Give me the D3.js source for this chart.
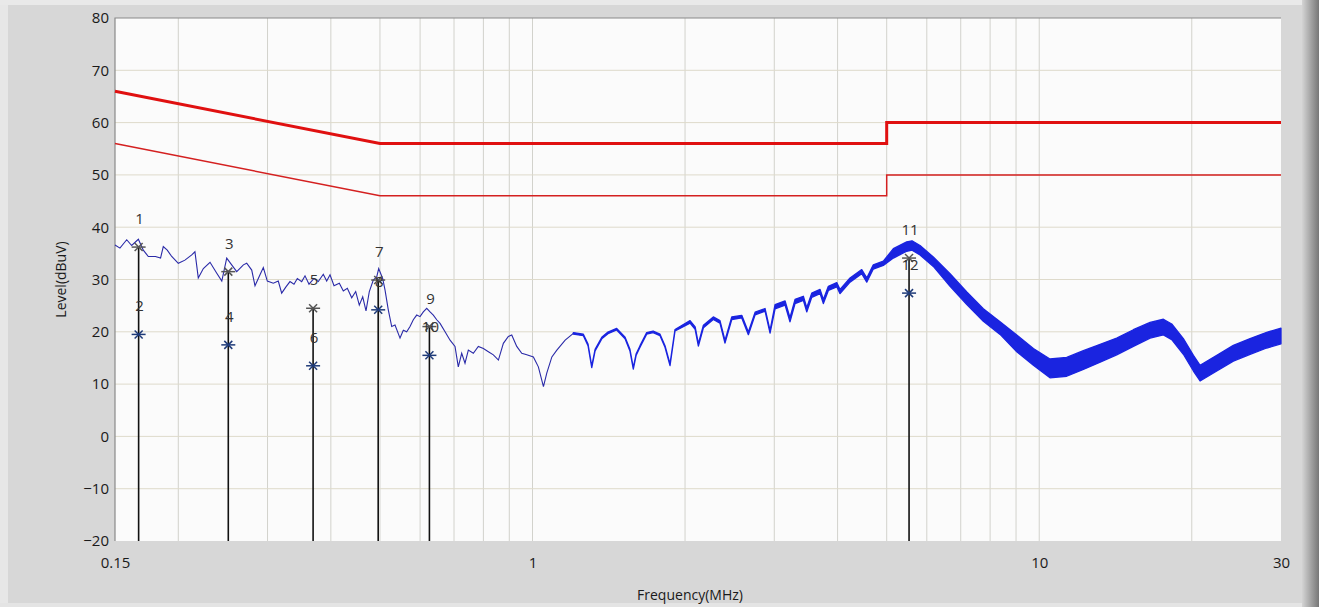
<!DOCTYPE html>
<html>
<head>
<meta charset="utf-8">
<script src="https://cdn.jsdelivr.net/npm/d3@7"></script>
<style>
  body { margin: 0; background: #d7d7d7; }
  svg { display: block; font-family: "Open Sans", "Noto Sans", sans-serif; }
</style>
</head>
<body>
<div id="chart"></div>
<script>
// tick labels
const yTicks = [-20, -10, 0, 10, 20, 30, 40, 50, 60, 70, 80]
const xTickLabels = [0.15, 1, 10, 30]
const xGrid = [0.2, 0.3, 0.4, 0.5, 0.6, 0.7, 0.8, 0.9, 1, 2, 3, 4, 5, 6, 7, 8, 9, 10, 20]

// limit lines [MHz, dBuV]
const limitQP = [[0.15, 66], [0.5, 56], [5, 56], [5, 60], [30, 60]]
const limitAV = [[0.15, 56], [0.5, 46], [5, 46], [5, 50], [30, 50]]

// measured trace below ~1.2 MHz [MHz, dBuV]
const traceThin = [
  [0.150, 36.6], [0.1534, 36.0], [0.1582, 37.6], [0.1618, 36.5], [0.1668, 37.7], [0.1706, 35.6],
  [0.1745, 34.4], [0.1803, 34.4], [0.1845, 34.1], [0.1868, 36.3], [0.1902, 35.6], [0.1941, 34.4],
  [0.200, 33.1], [0.2061, 33.7], [0.2126, 34.7], [0.2157, 35.3], [0.219, 30.3], [0.2241, 32.1],
  [0.231, 33.3], [0.2382, 31.2], [0.2437, 29.7], [0.2492, 34.1], [0.2549, 32.8], [0.2608, 31.5],
  [0.2688, 32.8], [0.2729, 33.1], [0.2792, 31.8], [0.2834, 28.8], [0.2899, 30.9], [0.2943, 32.3],
  [0.2997, 29.7], [0.308, 29.3], [0.315, 29.7], [0.3199, 27.4], [0.3262, 28.6], [0.3322, 29.6],
  [0.3383, 29.1], [0.3435, 30.2], [0.3504, 29.6], [0.3557, 30.7], [0.3622, 29.1], [0.3705, 30.2],
  [0.3778, 29.6], [0.3865, 31.0], [0.3925, 29.7], [0.3985, 30.9], [0.4058, 28.8], [0.4157, 29.3],
  [0.4233, 27.8], [0.4311, 28.3], [0.4398, 26.5], [0.4478, 27.7], [0.4552, 25.1], [0.4623, 26.7],
  [0.4693, 24.0], [0.4764, 27.7], [0.4851, 29.9], [0.4927, 30.5], [0.4971, 32.1], [0.5062, 30.2],
  [0.5116, 28.0], [0.5193, 24.2], [0.5274, 21.0], [0.5354, 21.3], [0.5477, 18.8], [0.556, 20.3],
  [0.5646, 20.0], [0.5732, 21.0], [0.5818, 22.3], [0.5909, 23.2], [0.5999, 22.9], [0.6089, 23.8],
  [0.6184, 24.5], [0.6278, 23.8], [0.6372, 23.2], [0.6471, 22.3], [0.657, 21.6], [0.6721, 20.0],
  [0.6876, 18.4], [0.7032, 17.2], [0.7138, 13.3], [0.7249, 15.9], [0.7359, 14.0], [0.7471, 16.5],
  [0.7643, 15.9], [0.7818, 17.2], [0.800, 16.8], [0.8183, 16.2], [0.8371, 15.6], [0.8565, 14.6],
  [0.876, 17.8], [0.8961, 19.1], [0.910, 19.4], [0.9309, 17.2], [0.9524, 15.9], [0.9743, 15.6],
  [1.004, 15.2], [1.027, 13.3], [1.051, 9.5], [1.067, 12.1], [1.092, 15.2], [1.117, 16.5],
  [1.160, 18.4], [1.204, 19.7]
]

// measured trace above ~1.2 MHz, noisy band [MHz, min dBuV, max dBuV]
const traceBand = [
  [1.204, 19.55, 19.85], [1.260, 19.25, 19.55], [1.287, 17.35, 17.65], [1.309, 13.15, 13.45], [1.329, 16.35, 16.65],
  [1.370, 18.65, 18.95], [1.409, 19.65, 19.95], [1.466, 20.35, 20.65], [1.523, 18.65, 18.95], [1.557, 16.35, 16.65],
  [1.581, 12.85, 13.15], [1.601, 15.45, 15.75], [1.630, 17.05, 17.35], [1.680, 19.55, 19.85], [1.730, 19.85, 20.15],
  [1.785, 19.25, 19.55], [1.826, 17.05, 17.35], [1.868, 13.55, 13.85], [1.911, 20.15, 20.45], [2.046, 21.65, 22.15],
  [2.094, 20.45, 20.95], [2.125, 17.25, 17.75], [2.174, 20.75, 21.25], [2.274, 22.35, 22.85], [2.344, 21.65, 22.15],
  [2.398, 17.85, 18.35], [2.473, 22.35, 22.85], [2.588, 22.65, 23.15], [2.667, 19.45, 19.95], [2.750, 23.25, 23.75],
  [2.877, 23.95, 24.45], [2.943, 19.75, 20.25], [3.011, 24.4, 25.2], [3.151, 25.1, 25.9], [3.222, 21.9, 22.7],
  [3.297, 25.4, 26.2], [3.424, 26.0, 26.8], [3.477, 23.8, 24.6], [3.557, 26.6, 27.4], [3.694, 27.3, 28.1],
  [3.750, 25.4, 26.2], [3.836, 27.9, 28.7], [3.985, 28.6, 29.4], [4.045, 27.3, 28.1], [4.233, 29.5, 30.3],
  [4.464, 31.1, 31.9], [4.567, 29.5, 30.3], [4.705, 32.0, 32.8], [4.924, 32.7, 33.5], [5.154, 34.1, 35.9],
  [5.477, 35.4, 37.2], [5.61, 35.6, 37.4], [5.818, 34.7, 36.5], [6.180, 32.5, 34.3], [6.669, 28.7, 31.1],
  [7.196, 25.2, 27.6], [7.757, 22.0, 24.4], [8.370, 19.5, 21.9], [9.030, 16.2, 19.4], [9.738, 13.6, 16.8],
  [10.50, 11.2, 14.8], [11.33, 11.5, 15.1], [12.22, 12.8, 16.4], [13.19, 14.2, 17.6], [14.22, 15.6, 18.8],
  [15.34, 17.2, 20.4], [16.55, 18.8, 21.8], [17.58, 19.4, 22.4], [18.26, 18.5, 21.5], [19.25, 15.7, 18.7],
  [20.15, 12.5, 15.5], [20.77, 10.6, 13.6], [22.41, 12.5, 15.5], [24.16, 14.4, 17.4], [26.07, 15.7, 18.7],
  [28.12, 16.9, 19.9], [30.0, 17.7, 20.7]
]

// final markers
const markerNo = [1, 2, 3, 4, 5, 6, 7, 8, 9, 10, 11, 12]
const markerFreq = [0.167, 0.167, 0.251, 0.251, 0.369, 0.369, 0.496, 0.496, 0.626, 0.626, 5.535, 5.535]
const markerLevel = [36.2, 19.5, 31.5, 17.5, 24.5, 13.5, 29.9, 24.2, 21.0, 15.5, 34.1, 27.4]

;(() => {
  let svg = null
  let xScale = null
  let yScale = null
  const width = 1319
  const height = 607
  const plot = { left: 115, right: 1281, top: 18, bottom: 541 }

  const init = () => {
    svg = d3.select('#chart')
      .append('svg')
      .attr('width', width)
      .attr('height', height)

    // window frame
    const defs = svg.append('defs')
    const grad = defs.append('linearGradient').attr('id', 'edge')
    grad.append('stop').attr('offset', '0%').attr('stop-color', '#d4d4d4')
    grad.append('stop').attr('offset', '100%').attr('stop-color', '#777')
    svg.append('rect').attr('width', width).attr('height', height).attr('fill', '#d7d7d7')
    svg.append('rect').attr('width', 8).attr('height', height).attr('fill', '#e7e7e7')
    svg.append('rect').attr('width', width).attr('height', 5).attr('fill', '#e9e9e9')
    svg.append('rect').attr('x', 1302).attr('width', 17).attr('height', height).attr('fill', 'url(#edge)')
    svg.append('rect').attr('y', 603).attr('width', 1302).attr('height', 4).attr('fill', '#e4e4e4')

    xScale = d3.scaleLog().domain([0.15, 30]).range([plot.left, plot.right])
    yScale = d3.scaleLinear().domain([-20, 80]).range([plot.bottom, plot.top])

    svg.append('rect')
      .attr('x', plot.left)
      .attr('y', plot.top)
      .attr('width', plot.right - plot.left)
      .attr('height', plot.bottom - plot.top)
      .attr('fill', '#fbfbfb')
  }

  const drawAxis = () => {
    const g = svg.append('g').attr('class', 'grid')
    g.selectAll('.vgrid')
      .data(xGrid)
      .enter()
      .append('line')
      .attr('x1', d => xScale(d)).attr('x2', d => xScale(d))
      .attr('y1', plot.top).attr('y2', plot.bottom)
      .attr('stroke', '#d2d2cc')
      .attr('stroke-width', 1)
    g.selectAll('.hgrid')
      .data(yTicks.filter(d => d > -20 && d < 80))
      .enter()
      .append('line')
      .attr('x1', plot.left).attr('x2', plot.right)
      .attr('y1', d => yScale(d)).attr('y2', d => yScale(d))
      .attr('stroke', '#dedacb')
      .attr('stroke-width', 1)

    // frame lines (top + left)
    svg.append('path')
      .attr('d', `M${plot.left},${plot.bottom}V${plot.top}H${plot.right}`)
      .attr('fill', 'none')
      .attr('stroke', '#8a8a8a')
      .attr('stroke-width', 1.2)

    // y labels
    const yAxis = d3.axisLeft(yScale).tickValues(yTicks).tickSize(0).tickPadding(6)
    svg.append('g')
      .attr('transform', `translate(${plot.left}, 0)`)
      .call(yAxis)
      .call(s => s.select('.domain').remove())
      .selectAll('text')
      .attr('font-size', 15)
      .attr('font-family', '"Open Sans", sans-serif')
      .attr('fill', '#1a1a1a')

    // x labels
    const xAxis = d3.axisBottom(xScale).tickValues(xTickLabels).tickFormat(d => String(d)).tickSize(0).tickPadding(16)
    svg.append('g')
      .attr('transform', `translate(0, ${plot.bottom})`)
      .call(xAxis)
      .call(s => s.select('.domain').remove())
      .selectAll('text')
      .attr('font-size', 15)
      .attr('font-family', '"Open Sans", sans-serif')
      .attr('fill', '#1a1a1a')

    svg.append('text')
      .attr('x', 690)
      .attr('y', 600)
      .attr('text-anchor', 'middle')
      .attr('font-size', 14)
      .attr('fill', '#1a1a1a')
      .text('Frequency(MHz)')

    svg.append('text')
      .attr('transform', `translate(66, ${(plot.top + plot.bottom) / 2}) rotate(-90)`)
      .attr('text-anchor', 'middle')
      .attr('font-size', 14)
      .attr('fill', '#1a1a1a')
      .text('Level(dBuV)')
  }

  const drawLimits = () => {
    const line = d3.line().x(d => xScale(d[0])).y(d => yScale(d[1]))
    svg.append('path')
      .datum(limitAV)
      .attr('d', line)
      .attr('fill', 'none')
      .attr('stroke', '#d42020')
      .attr('stroke-width', 1.5)
    svg.append('path')
      .datum(limitQP)
      .attr('d', line)
      .attr('fill', 'none')
      .attr('stroke', '#e01010')
      .attr('stroke-width', 3)
  }

  const drawTrace = () => {
    const line = d3.line().x(d => xScale(d[0])).y(d => yScale(d[1]))
    svg.append('path')
      .datum(traceThin)
      .attr('d', line)
      .attr('fill', 'none')
      .attr('stroke', '#2a2aa8')
      .attr('stroke-width', 1.1)

    const area = d3.area()
      .x(d => xScale(d[0]))
      .y0(d => yScale(d[1]))
      .y1(d => yScale(d[2]))
    svg.append('path')
      .datum(traceBand)
      .attr('d', area)
      .attr('fill', '#1a24e0')
      .attr('stroke', '#1a24e0')
      .attr('stroke-width', 1.3)
      .attr('stroke-linejoin', 'round')
  }

  const drawMarkers = () => {
    const data = markerNo.map((n, i) => ({ n, f: markerFreq[i], v: markerLevel[i] }))

    // stems from the upper (QP) marker down to the axis
    svg.append('g')
      .selectAll('line')
      .data(data.filter(d => d.n % 2 === 1))
      .enter()
      .append('line')
      .attr('x1', d => xScale(d.f)).attr('x2', d => xScale(d.f))
      .attr('y1', d => yScale(d.v)).attr('y2', plot.bottom)
      .attr('stroke', '#111')
      .attr('stroke-width', 1.6)

    const star = svg.append('g')
      .selectAll('g')
      .data(data)
      .enter()
      .append('g')
      .attr('transform', d => `translate(${xScale(d.f)}, ${yScale(d.v)})`)
      .attr('stroke', d => d.n % 2 === 1 ? '#555' : '#1e3a78')
      .attr('stroke-width', 1.5)
    star.append('line').attr('x1', -7).attr('x2', 7)
    star.append('line').attr('x1', -4).attr('x2', 4).attr('y1', -4).attr('y2', 4)
    star.append('line').attr('x1', -4).attr('x2', 4).attr('y1', 4).attr('y2', -4)

    svg.append('g')
      .selectAll('text')
      .data(data)
      .enter()
      .append('text')
      .attr('x', d => xScale(d.f) + 1)
      .attr('y', d => yScale(d.v) - 23)
      .attr('text-anchor', 'middle')
      .attr('font-size', 15)
      .attr('fill', '#333')
      .text(d => d.n)
  }

  init()
  drawAxis()
  drawLimits()
  drawTrace()
  drawMarkers()
})()
</script>
</body>
</html>
